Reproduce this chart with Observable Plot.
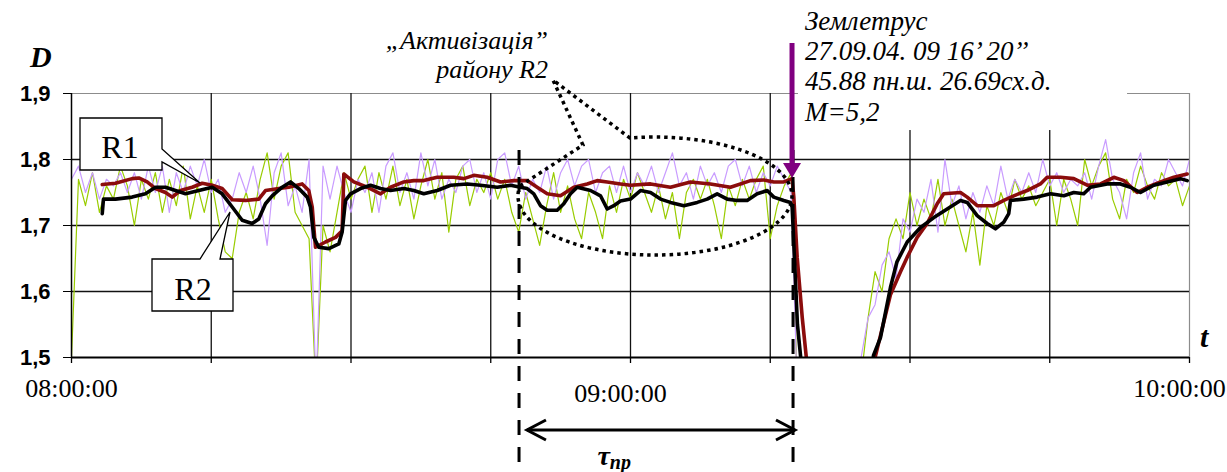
<!DOCTYPE html>
<html><head><meta charset="utf-8">
<script src="https://cdn.jsdelivr.net/npm/d3@7"></script>
<script src="https://cdn.jsdelivr.net/npm/@observablehq/plot@0.6"></script>
<style>html,body{margin:0;padding:0;background:#fff;}</style>
</head><body><div id="chart"></div>
<script>
// ---------- data ----------
const startMs = Date.UTC(2004, 8, 27, 8, 0, 0); // 08:00:00
const T = m => new Date(startMs + m * 60000);   // minutes after 08:00 -> Date

const yTicks = [1.5, 1.6, 1.7, 1.8, 1.9];
const gridMinutes = [0, 15, 30, 45, 60, 75, 90, 105, 120];
const xTickLabels = [
  {m: 0, label: "08:00:00", v: 1.4524},
  {m: 58.93, label: "09:00:00", v: 1.4448},
  {m: 118.93, label: "10:00:00", v: 1.4524}
];

// raw fractal dimension, sampled every 0.75 min from 08:00 (thin lines)
const rawStepMin = 0.75;
const rawR2 = [ // light green
1.50,1.77,1.73,1.78,1.72,1.76,1.74,1.79,1.76,1.70,
1.77,1.74,1.78,1.72,1.77,1.73,1.79,1.71,1.76,1.72,
1.77,1.71,1.66,1.65,1.72,1.75,1.71,1.77,1.81,1.74,
1.79,1.81,1.72,1.70,1.68,1.45,1.70,1.66,1.72,1.78,
1.74,1.77,1.79,1.72,1.78,1.74,1.79,1.73,1.77,1.71,
1.76,1.80,1.74,1.78,1.69,1.77,1.79,1.73,1.77,1.75,
1.78,1.74,1.77,1.72,1.69,1.75,1.71,1.67,1.73,1.78,
1.72,1.76,1.71,1.68,1.75,1.72,1.68,1.76,1.72,1.77,
1.74,1.78,1.75,1.72,1.76,1.71,1.75,1.68,1.75,1.77,
1.74,1.77,1.73,1.68,1.76,1.73,1.77,1.74,1.77,1.79,
1.68,1.73,1.76,1.78,1.40,1.40,1.40,1.40,1.40,1.40,
1.40,1.40,1.40,1.47,1.56,1.63,1.60,1.68,1.71,1.68,
1.75,1.70,1.74,1.71,1.77,1.70,1.74,1.70,1.66,1.72,
1.64,1.73,1.70,1.75,1.72,1.77,1.74,1.76,1.73,1.75,
1.77,1.70,1.77,1.74,1.70,1.80,1.76,1.79,1.81,1.74,
1.71,1.77,1.75,1.79,1.76,1.74,1.78,1.76,1.77,1.73,
1.76];
const rawR1 = [ // lavender
1.77,1.79,1.75,1.78,1.74,1.77,1.76,1.78,1.75,1.78,
1.74,1.79,1.75,1.79,1.72,1.78,1.75,1.79,1.76,1.80,
1.75,1.77,1.72,1.74,1.78,1.75,1.79,1.74,1.67,1.78,
1.81,1.73,1.76,1.72,1.80,1.45,1.79,1.74,1.79,1.75,
1.72,1.77,1.75,1.78,1.72,1.79,1.81,1.75,1.78,1.74,
1.81,1.76,1.80,1.74,1.77,1.75,1.79,1.80,1.75,1.78,
1.74,1.80,1.81,1.76,1.79,1.74,1.77,1.75,1.79,1.74,
1.78,1.80,1.76,1.79,1.80,1.75,1.78,1.79,1.75,1.79,
1.75,1.78,1.76,1.79,1.75,1.78,1.81,1.76,1.78,1.74,
1.79,1.76,1.78,1.75,1.79,1.80,1.76,1.79,1.75,1.78,
1.76,1.79,1.77,1.75,1.40,1.40,1.40,1.40,1.40,1.40,
1.40,1.40,1.42,1.50,1.56,1.58,1.64,1.66,1.62,1.71,
1.69,1.74,1.72,1.77,1.69,1.80,1.73,1.76,1.71,1.75,
1.72,1.76,1.73,1.79,1.74,1.77,1.75,1.78,1.75,1.80,
1.76,1.78,1.75,1.77,1.76,1.78,1.74,1.79,1.83,1.77,
1.75,1.71,1.78,1.81,1.74,1.77,1.76,1.80,1.78,1.76,
1.80];

// smoothed series [minutes after 08:00, D]
const smoothR1 = [ // dark red
[3.30,1.762],[4.72,1.764],[6.51,1.771],[7.22,1.772],[8.12,1.766],[9.02,1.756],[10.09,1.750],[10.81,1.743],
[11.70,1.753],[12.95,1.758],[14.03,1.764],[15.10,1.761],[16.17,1.756],[17.25,1.739],[18.68,1.738],[20.10,1.740],
[20.82,1.753],[22.25,1.756],[23.32,1.758],[24.76,1.763],[25.47,1.753],[25.84,1.728],[26.01,1.697],[26.19,1.667],
[27.26,1.675],[28.34,1.682],[29.05,1.692],[29.23,1.778],[29.59,1.774],[30.30,1.766],[31.74,1.758],[33.17,1.748],
[34.24,1.758],[35.67,1.766],[36.74,1.768],[37.81,1.768],[39.25,1.773],[41.03,1.773],[42.11,1.771],[43.18,1.776],
[44.62,1.773],[46.05,1.766],[47.47,1.768],[48.91,1.768],[49.98,1.758],[51.06,1.748],[52.48,1.745],[53.91,1.758],
[55.35,1.763],[56.42,1.768],[57.50,1.766],[58.92,1.763],[60.00,1.761],[62.15,1.763],[64.29,1.758],[66.44,1.766],
[68.58,1.763],[70.73,1.758],[72.88,1.768],[74.31,1.769],[75.38,1.766],[76.45,1.766],[77.35,1.771],[77.53,1.743],
[77.89,1.652],[78.43,1.561],[79.96,1.35],[84.68,1.35],[86.29,1.502],[87.90,1.595],[88.98,1.630],[89.70,1.652],
[90.77,1.682],[91.84,1.703],[92.92,1.733],[93.62,1.748],[95.42,1.750],[96.14,1.743],[97.21,1.730],[98.99,1.730],
[100.07,1.738],[101.14,1.745],[102.57,1.753],[104.00,1.763],[104.72,1.773],[106.15,1.773],[107.58,1.771],[109.02,1.761],
[110.45,1.763],[111.88,1.773],[112.96,1.768],[114.38,1.750],[115.46,1.758],[116.89,1.766],[118.32,1.773],[119.75,1.778]];
const smoothR2 = [ // black
[3.30,1.718],[3.43,1.740],[4.72,1.740],[6.51,1.743],[7.94,1.748],[9.02,1.758],[10.09,1.758],[11.16,1.753],
[12.24,1.748],[13.66,1.753],[15.10,1.758],[16.17,1.748],[17.25,1.728],[18.32,1.708],[19.39,1.703],[20.10,1.710],
[20.82,1.733],[21.54,1.745],[22.61,1.758],[23.51,1.766],[24.40,1.756],[25.30,1.743],[25.65,1.728],[26.01,1.682],
[26.54,1.667],[27.62,1.665],[28.69,1.672],[29.05,1.690],[29.41,1.738],[29.95,1.748],[31.02,1.756],[32.09,1.761],
[33.17,1.756],[34.24,1.753],[35.67,1.756],[36.74,1.753],[37.81,1.748],[39.25,1.753],[40.68,1.761],[42.47,1.763],
[43.90,1.761],[45.69,1.758],[47.12,1.761],[48.19,1.758],[48.91,1.756],[49.62,1.748],[50.34,1.730],[51.06,1.723],
[52.13,1.723],[52.84,1.733],[53.56,1.748],[54.28,1.758],[55.71,1.753],[56.78,1.745],[57.50,1.725],[58.21,1.730],
[58.92,1.737],[60.00,1.740],[61.07,1.753],[62.15,1.750],[63.22,1.740],[64.29,1.735],[65.72,1.730],[67.16,1.735],
[68.23,1.740],[69.30,1.748],[70.38,1.740],[71.45,1.738],[72.52,1.738],[73.60,1.748],[74.67,1.753],[75.38,1.743],
[76.45,1.738],[77.17,1.735],[77.35,1.728],[77.92,1.55],[79.32,1.35],[84.68,1.35],[86.08,1.503],[86.83,1.530],
[87.90,1.606],[88.60,1.645],[89.70,1.675],[91.13,1.697],[92.56,1.712],[93.99,1.725],[95.42,1.738],[96.14,1.735],
[97.21,1.715],[98.28,1.703],[99.17,1.695],[100.07,1.705],[100.60,1.718],[100.78,1.738],[102.21,1.740],[103.65,1.743],
[105.08,1.748],[106.51,1.745],[107.58,1.750],[108.65,1.748],[109.37,1.758],[111.16,1.763],[112.59,1.763],[113.66,1.758],
[114.74,1.750],[116.17,1.761],[117.60,1.766],[119.03,1.771],[119.75,1.768]];

// ---------- tables ----------
const rawTable = vals => vals.map((v, i) => ({t: T(i * rawStepMin), v}));
const pairTable = arr => arr.map(([m, v]) => ({t: T(m), v}));

const serif = "'Liberation Serif', 'Times New Roman', serif";
const sans = "'Liberation Sans', Arial, sans-serif";

const chart = Plot.plot({
  width: 1227, height: 472,
  marginLeft: 71, marginRight: 38, marginTop: 93, marginBottom: 115,
  x: {type: "utc", domain: [T(0), T(120)], axis: null},
  y: {domain: [1.5, 1.9]},
  style: {background: "#fff", fontFamily: serif, color: "#000"},
  marks: [
    Plot.ruleY([1.9], {stroke: "#8c8c8c", strokeWidth: 1.2}),
    Plot.ruleX([T(120)], {y1: 1.5, y2: 1.9, stroke: "#8c8c8c", strokeWidth: 1.2}),
    Plot.ruleY([1.6, 1.7, 1.8], {stroke: "#111", strokeWidth: 1.3}),
    Plot.ruleX(gridMinutes.slice(1, -1).map(T), {y1: 1.5, y2: 1.9, stroke: "#111", strokeWidth: 1.3}),
    Plot.ruleX(gridMinutes.map(T), {y1: 1.5, y2: 1.4909, stroke: "#000", strokeWidth: 1.3}),
    Plot.axisY({ticks: yTicks, tickSize: 8, tickPadding: 13, label: null,
      tickFormat: d => d.toFixed(1).replace(".", ","),
      fontSize: 22, fontWeight: "bold", fontFamily: sans}),
    Plot.line(rawTable(rawR2), {x: "t", y: "v", stroke: "#99cc00", strokeWidth: 1.2, clip: true}),
    Plot.line(rawTable(rawR1), {x: "t", y: "v", stroke: "#c99cff", strokeWidth: 1.2, clip: true}),
    Plot.line(pairTable(smoothR1), {x: "t", y: "v", stroke: "#8b0c0c", strokeWidth: 3.6, strokeLinejoin: "round", clip: true}),
    Plot.line(pairTable(smoothR2), {x: "t", y: "v", stroke: "#000", strokeWidth: 3.6, strokeLinejoin: "round", clip: true}),
    Plot.ruleY([1.5], {stroke: "#000", strokeWidth: 2}),
    Plot.ruleX([T(0)], {y1: 1.5, y2: 1.9, stroke: "#000", strokeWidth: 1.5}),
    Plot.text(xTickLabels, {x: d => T(d.m), y: "v", text: "label", fontSize: 26, fontFamily: serif, fill: "#000"})
  ]
});
document.getElementById("chart").append(chart);

// ---------- annotations (positions in data units, mapped through the scales) ----------
const xs = chart.scale("x"), ys = chart.scale("y");
const px = m => xs.apply(T(m)), py = v => ys.apply(v);
const g = d3.select(chart).append("g");
const pts = arr => arr.map(([m, v]) => `${px(m)},${py(v)}`).join(" ");
function label(m, v, str, {size = 26, style = "italic", weight = "normal", anchor = "start", family = serif} = {}) {
  return g.append("text").attr("x", px(m)).attr("y", py(v))
    .style("font-family", family).attr("font-size", size).attr("font-style", style)
    .attr("font-weight", weight).attr("text-anchor", anchor).attr("fill", "#000").text(str);
}

// white box behind earthquake note
g.append("rect").attr("x", px(78.03)).attr("y", py(2.0409))
  .attr("width", px(113.35) - px(78.03)).attr("height", py(1.8439) - py(2.0409)).attr("fill", "#fff");

// dashed vertical lines
for (const m of [48.09, 77.50]) {
  g.append("line").attr("x1", px(m)).attr("x2", px(m)).attr("y1", py(1.8136)).attr("y2", py(1.3258))
    .attr("stroke", "#000").attr("stroke-width", 3).attr("stroke-dasharray", "15,12");
}

// double arrow tau
const ay = py(1.3894), ax1 = px(48.94), ax2 = px(77.71), hx = px(2.04) - px(0), hy = 10;
g.append("line").attr("x1", ax1).attr("x2", ax2).attr("y1", ay).attr("y2", ay).attr("stroke", "#000").attr("stroke-width", 3);
g.append("polyline").attr("points", `${ax1 + hx},${ay - hy} ${ax1},${ay} ${ax1 + hx},${ay + hy}`)
  .attr("fill", "none").attr("stroke", "#000").attr("stroke-width", 3);
g.append("polyline").attr("points", `${ax2 - hx},${ay - hy} ${ax2},${ay} ${ax2 - hx},${ay + hy}`)
  .attr("fill", "none").attr("stroke", "#000").attr("stroke-width", 3);
const tau = label(56.5, 1.3364, "τ", {size: 28, weight: "bold"});
tau.append("tspan").attr("font-size", 20).attr("dy", 4).text("пр");

// purple earthquake arrow
const qx = px(77.39), qw = px(0.966) - px(0);
g.append("line").attr("x1", qx).attr("x2", qx).attr("y1", py(1.9758)).attr("y2", py(1.7939))
  .attr("stroke", "#800080").attr("stroke-width", 5);
g.append("polygon").attr("points", `${qx - qw},${py(1.7939)} ${qx + qw},${py(1.7939)} ${qx},${py(1.7712)}`)
  .attr("fill", "#800080");

// earthquake note
label(78.78, 1.9955, "Землетрус", {size: 27});
label(78.78, 1.9500, "27.09.04. 09 16’ 20’’", {size: 27});
label(78.78, 1.9045, "45.88 пн.ш. 26.69сх.д.", {size: 27});
label(78.78, 1.8576, "M=5,2", {size: 27});

// activation note
label(51.20, 1.9667, "„Активізація”", {anchor: "end", size: 26});
label(51.20, 1.9227, "району R2", {anchor: "end", size: 26});

// dotted oval callout
const cxm = 62.68, cyv = 1.7439;
const rxPx = px(cxm + 14.705) - px(cxm), ryPx = py(cyv - 0.0894) - py(cyv);
const e1 = [48.19, 1.7591], e2 = [59.99, 1.8318];
g.append("path")
  .attr("d", `M${px(e1[0])},${py(e1[1])} L${px(54.95)},${py(1.8212)} L${px(51.73)},${py(1.9197)} L${px(e2[0])},${py(e2[1])} A${rxPx},${ryPx} 0 1 1 ${px(e1[0])},${py(e1[1])}`)
  .attr("fill", "none").attr("stroke", "#000").attr("stroke-width", 3.5).attr("stroke-dasharray", "3.5,4");

// R1 callout
g.append("polygon").attr("points", pts([[0.966,1.8621],[9.767,1.8621],[9.767,1.8152],[13.846,1.7636],[9.767,1.7955],[9.767,1.7833],[0.966,1.7833]]))
  .attr("fill", "#fff").attr("stroke", "#000").attr("stroke-width", 1.3);
label(5.26, 1.8015, "R1", {size: 32, style: "normal", anchor: "middle"});
// R2 callout
g.append("polygon").attr("points", pts([[8.694,1.6485],[13.846,1.6485],[17.066,1.7197],[15.993,1.6485],[17.388,1.6485],[17.388,1.5697],[8.694,1.5697]]))
  .attr("fill", "#fff").attr("stroke", "#000").attr("stroke-width", 1.3);
label(13.095, 1.5864, "R2", {size: 32, style: "normal", anchor: "middle"});

// axis letters
label(-4.40, 1.9394, "D", {size: 30, weight: "bold"});
label(121.18, 1.5152, "t", {size: 30, weight: "bold"});
</script>
</body></html>
